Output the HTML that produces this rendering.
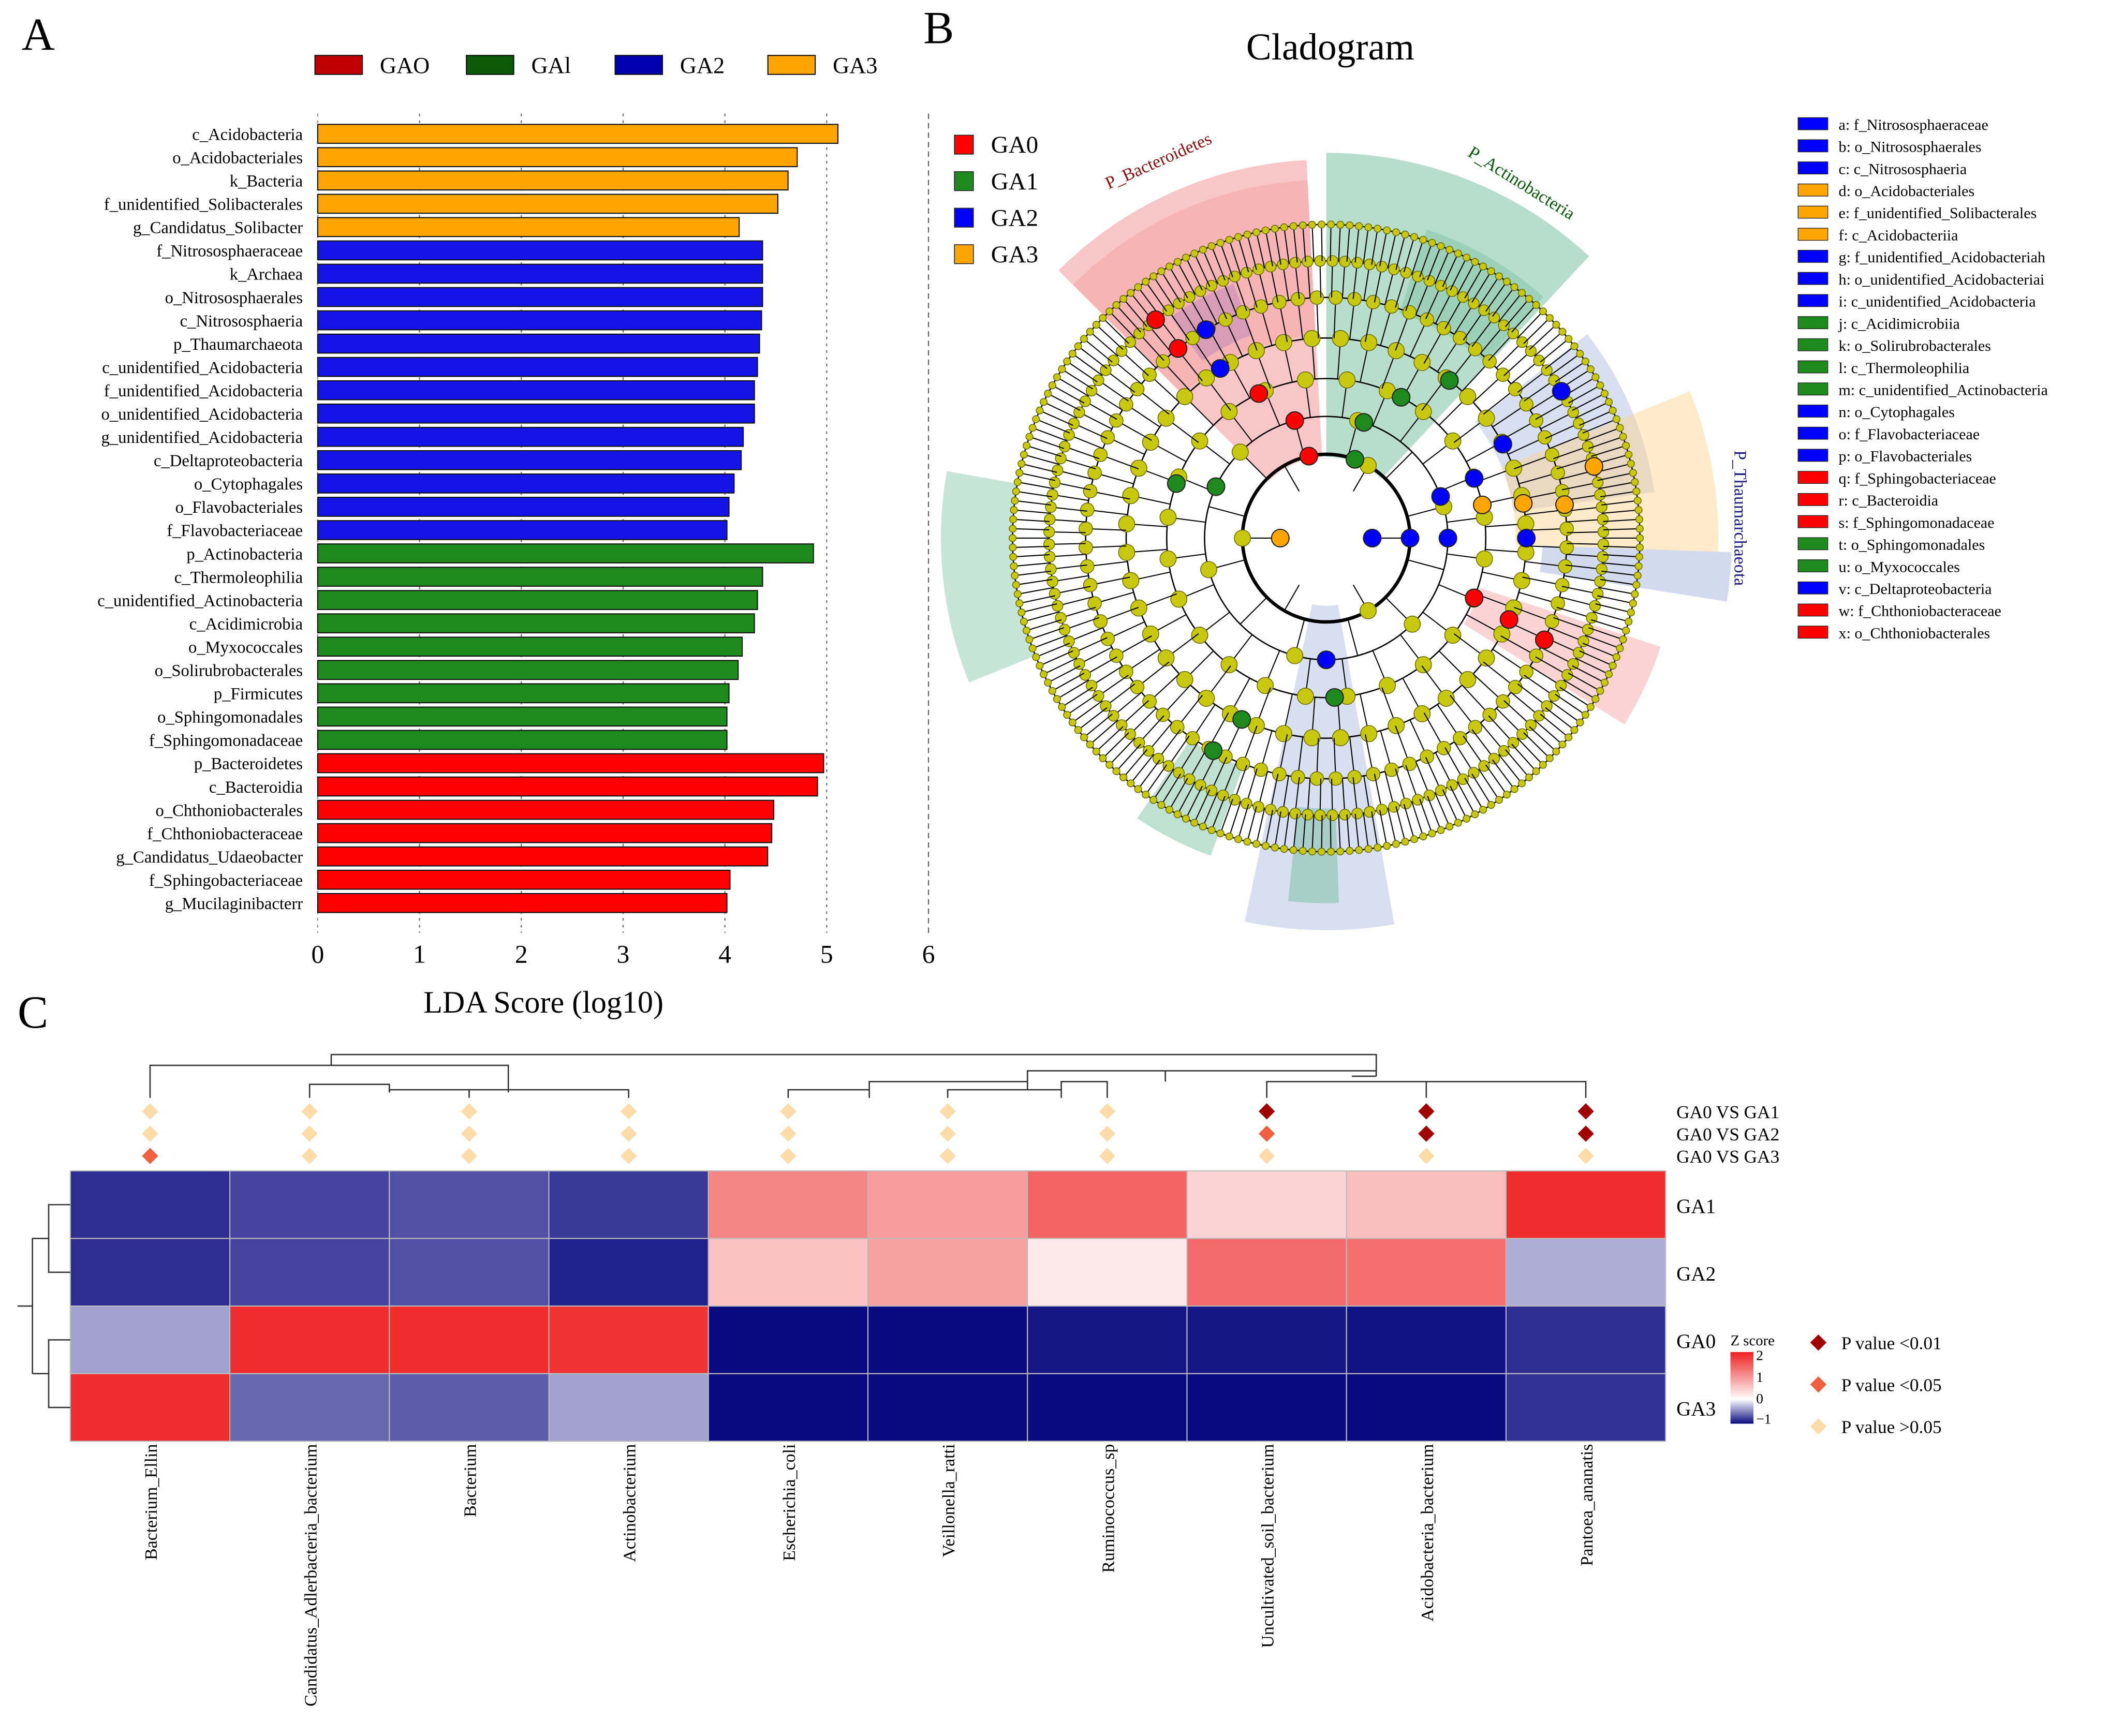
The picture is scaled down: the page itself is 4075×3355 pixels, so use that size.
<!DOCTYPE html>
<html><head><meta charset="utf-8">
<style>
html,body{margin:0;padding:0;background:#fff;}
svg{display:block;font-family:"Liberation Serif",serif;}
</style></head>
<body>
<svg id="fig" width="4075" height="3355" viewBox="0 0 1560 1284" preserveAspectRatio="none" xmlns="http://www.w3.org/2000/svg">
<rect x="0" y="0" width="1560" height="1284" fill="#fff"/>
<text x="16" y="37" font-size="34">A</text>
<text x="683" y="32" font-size="34">B</text>
<text x="13" y="760" font-size="34">C</text>
<g id="gA"></g>
<g id="gB"></g>
<g id="gC"></g>
</svg>
<script>
const NS="http://www.w3.org/2000/svg";
// ---------- Panel A data ----------
const ldaLabels=["c_Acidobacteria","o_Acidobacteriales","k_Bacteria","f_unidentified_Solibacterales","g_Candidatus_Solibacter","f_Nitrososphaeraceae","k_Archaea","o_Nitrososphaerales","c_Nitrososphaeria","p_Thaumarchaeota","c_unidentified_Acidobacteria","f_unidentified_Acidobacteria","o_unidentified_Acidobacteria","g_unidentified_Acidobacteria","c_Deltaproteobacteria","o_Cytophagales","o_Flavobacteriales","f_Flavobacteriaceae","p_Actinobacteria","c_Thermoleophilia","c_unidentified_Actinobacteria","c_Acidimicrobia","o_Myxococcales","o_Solirubrobacterales","p_Firmicutes","o_Sphingomonadales","f_Sphingomonadaceae","p_Bacteroidetes","c_Bacteroidia","o_Chthoniobacterales","f_Chthoniobacteraceae","g_Candidatus_Udaeobacter","f_Sphingobacteriaceae","g_Mucilaginibacterr"];
const ldaValues=[5.11,4.71,4.62,4.52,4.14,4.37,4.37,4.37,4.36,4.34,4.32,4.29,4.29,4.18,4.16,4.09,4.04,4.02,4.87,4.37,4.32,4.29,4.17,4.13,4.04,4.02,4.02,4.97,4.91,4.48,4.46,4.42,4.05,4.02];
const ldaGroups=[3,3,3,3,3,2,2,2,2,2,2,2,2,2,2,2,2,2,1,1,1,1,1,1,1,1,1,0,0,0,0,0,0,0];
const xTicks=[0,1,2,3,4,5,6];
const groupNames=["GAO","GAl","GA2","GA3"];
// ---------- Panel C data ----------
const hmCols=["Bacterium_Ellin","Candidatus_Adlerbacteria_bacterium","Bacterium","Actinobacterium","Escherichia_coli","Veillonella_ratti","Ruminococcus_sp","Uncultivated_soil_bacterium","Acidobacteria_bacterium","Pantoea_ananatis"];
const hmRows=["GA1","GA2","GA0","GA3"];
const zGA1=[-0.9,-0.8,-0.75,-0.85,1.1,0.9,1.4,0.4,0.6,1.9];
const zGA2=[-0.9,-0.8,-0.75,-0.95,0.55,0.85,0.2,1.35,1.3,-0.35];
const zGA0=[-0.4,1.9,1.9,1.85,-1.05,-1.05,-1.0,-1.0,-1.02,-0.9];
const zGA3=[1.9,-0.65,-0.7,-0.4,-1.05,-1.05,-1.05,-1.05,-1.05,-0.88];
const sigRowLabels=["GA0 VS GA1","GA0 VS GA2","GA0 VS GA3"];
const sig1=[0,0,0,0,0,0,0,2,2,2];
const sig2=[0,0,0,0,0,0,0,1,2,2];
const sig3=[1,0,0,0,0,0,0,0,0,0];

function mk(parent,tag,attrs,text){const e=document.createElementNS(NS,tag);for(const k in attrs)e.setAttribute(k,attrs[k]);if(text!==undefined)e.textContent=text;parent.appendChild(e);return e;}

// ===== Panel A =====
(function(){
const g=document.getElementById('gA');
const gc=["#ff0000","#1e8a1e","#1414e6","#ffa500"];
const legC=["#c00000","#0a5a0a","#0000b0","#ffa500"];
const x0=235,xs=75.3,y0=99,dy=17.24,bh=14;
const X=v=>x0+v*xs;
xTicks.forEach(t=>{
  if(t>0){const l=mk(g,'line',{x1:X(t),x2:X(t),y1:84,y2:690,stroke:t==6?'#666':'#777','stroke-width':0.9,'stroke-dasharray':t==6?'4,3':'2,3'});
  }
  const tx=mk(g,'text',{x:X(t),y:712,'font-size':19,'text-anchor':'middle'},String(t));
  
});
const l0=mk(g,'line',{x1:x0,x2:x0,y1:84,y2:690,stroke:'#888','stroke-width':0.8,'stroke-dasharray':'2,3'});

ldaValues.forEach((v,i)=>{
  const yc=y0+i*dy;
  const r=mk(g,'rect',{x:x0,y:yc-bh/2,width:X(v)-x0,height:bh,fill:gc[ldaGroups[i]],stroke:'#111','stroke-width':0.8});
  
  const t=mk(g,'text',{x:224,y:yc+4.5,'font-size':12.5,'text-anchor':'end'},ldaLabels[i]);
  
});
const at=mk(g,'text',{x:402,y:749,'font-size':23,'text-anchor':'middle'},'LDA Score (log10)');

const lx=[233,345,455,568];
groupNames.forEach((n,i)=>{
  const b=mk(g,'rect',{x:lx[i],y:41,width:35,height:14,fill:legC[i],stroke:'#111','stroke-width':0.8});
  
  const t=mk(g,'text',{x:lx[i]+48,y:54,'font-size':17},n);
  
});
})();

// ===== Panel B (cladogram) =====
(function(){
const g=document.getElementById('gB');
const cx=981,cy=398;
const P=(r,a)=>{const t=(a-90)*Math.PI/180;return [cx+r*Math.cos(t),cy+r*Math.sin(t)];};
function sector(r1,r2,a1,a2,fill,op,name){
  const [x1,y1]=P(r2,a1),[x2,y2]=P(r2,a2),[x3,y3]=P(r1,a2),[x4,y4]=P(r1,a1);
  const lg=(a2-a1)>180?1:0;
  const p=mk(g,'path',{d:`M${x1},${y1}A${r2},${r2} 0 ${lg} 1 ${x2},${y2}L${x3},${y3}A${r1},${r1} 0 ${lg} 0 ${x4},${y4}Z`,fill:fill,'fill-opacity':op});
  
}
const R='#f08080',G='#5fb38f',B='#8fa3d6',O='#ffd08a';
sector(60,280,-45,-3,R,0.45,'bacteroidetes-sector');
sector(150,265,-45,-3,R,0.25,'bacteroidetes-sector-inner');
sector(60,285,0,43,G,0.45,'actinobacteria-sector');
sector(175,240,18,42,G,0.3,'actinobacteria-sub');
sector(232,285,-112,-80,G,0.35,'left-green-sector');
sector(140,245,52,82,B,0.35,'blue-sector');
sector(140,290,68,92,O,0.45,'orange-sector');
sector(160,300,92,99,B,0.4,'thaumarchaeota-sector');
sector(120,260,108,122,R,0.35,'red-sector-x');
sector(50,290,170,192,B,0.35,'bottom-blue-sector');
sector(200,270,178,186,G,0.4,'bottom-green-sector');
sector(180,250,200,214,G,0.4,'green-sector-s');
sector(160,200,-35,-20,'#a070c0',0.35,'purple-sector');
// tree
const radii=[62,90,118,148,178,205,232];
const counts=[6,12,24,44,80,140,210];
const gap=[-3,3];
radii.forEach((r,k)=>{
  const c=mk(g,'circle',{cx:cx,cy:cy,r:r,fill:'none',stroke:'#000','stroke-width':k==0?2.5:1});
  
  const n=counts[k];
  for(let i=0;i<n;i++){
    const a=(i+0.5)*360/n;
    const rp=k==0?40:radii[k-1];
    const [x1,y1]=P(rp,a),[x2,y2]=P(r,a);
    const l=mk(g,'line',{x1:x1,y1:y1,x2:x2,y2:y2,stroke:'#000','stroke-width':0.8});
    
    const sz=k==6?2.6:(k==5?4:(k==4?5:6));
    if(k>=2 || i%2==0){
    const nd=mk(g,'circle',{cx:x2,cy:y2,r:sz,fill:'#c8c810',stroke:'#6d6d00','stroke-width':0.6});
    }
  }
});
// highlighted nodes
const hl=[[62,-12,'#ff0000'],[90,-15,'#ff0000'],[118,-25,'#ff0000'],[148,-32,'#0000ff'],[178,-30,'#0000ff'],[178,-38,'#ff0000'],[205,-38,'#ff0000'],
[62,20,'#1e8a1e'],[90,18,'#1e8a1e'],[118,28,'#1e8a1e'],[148,38,'#1e8a1e'],[118,-70,'#1e8a1e'],[90,-65,'#1e8a1e'],
[90,70,'#0000ff'],[118,68,'#0000ff'],[148,62,'#0000ff'],[205,58,'#0000ff'],[118,78,'#ffa500'],[148,80,'#ffa500'],[178,82,'#ffa500'],[205,75,'#ffa500'],
[34,90,'#0000ff'],[62,90,'#0000ff'],[90,90,'#0000ff'],[148,90,'#0000ff'],[118,112,'#ff0000'],[148,114,'#ff0000'],[178,115,'#ff0000'],
[90,180,'#0000ff'],[118,177,'#1e8a1e'],[148,205,'#1e8a1e'],[178,208,'#1e8a1e'],[34,-90,'#ffa500']];
hl.forEach(h=>{const [x,y]=P(h[0],h[1]);const c=mk(g,'circle',{cx:x,cy:y,r:6.5,fill:h[2],stroke:'#222','stroke-width':0.8});
});
const tt=mk(g,'text',{x:984,y:44,'font-size':28,'text-anchor':'middle'},'Cladogram');

const lc=['#ff0000','#1e8a1e','#0000ff','#ffa500'],ln=['GA0','GA1','GA2','GA3'];
ln.forEach((n,i)=>{const b=mk(g,'rect',{x:706,y:100+i*27,width:14,height:14,fill:lc[i],stroke:'#222','stroke-width':0.6});

const t=mk(g,'text',{x:733,y:113+i*27,'font-size':18},n);});
const t1=mk(g,'text',{x:0,y:0,'font-size':13,fill:'#8b1010',transform:`translate(820,140) rotate(-24)`},'P_Bacteroidetes');

const t2=mk(g,'text',{x:0,y:0,'font-size':13,fill:'#0a5a0a',transform:`translate(1085,115) rotate(32)`},'P_Actinobacteria');

const t3=mk(g,'text',{x:0,y:0,'font-size':13,fill:'#1a1a80',transform:`translate(1283,333) rotate(90)`},'P_Thaumarchaeota');

const keys=[["a: f_Nitrososphaeraceae",2],["b: o_Nitrososphaerales",2],["c: c_Nitrososphaeria",2],["d: o_Acidobacteriales",3],["e: f_unidentified_Solibacterales",3],["f: c_Acidobacteriia",3],["g: f_unidentified_Acidobacteriah",2],["h: o_unidentified_Acidobacteriai",2],["i: c_unidentified_Acidobacteria",2],["j: c_Acidimicrobiia",1],["k: o_Solirubrobacterales",1],["l: c_Thermoleophilia",1],["m: c_unidentified_Actinobacteria",1],["n: o_Cytophagales",2],["o: f_Flavobacteriaceae",2],["p: o_Flavobacteriales",2],["q: f_Sphingobacteriaceae",0],["r: c_Bacteroidia",0],["s: f_Sphingomonadaceae",0],["t: o_Sphingomonadales",1],["u: o_Myxococcales",1],["v: c_Deltaproteobacteria",2],["w: f_Chthoniobacteraceae",0],["x: o_Chthoniobacterales",0]];
keys.forEach((k,i)=>{const y=92+i*16.35;
const b=mk(g,'rect',{x:1330,y:y-5,width:22,height:9,fill:lc[k[1]],stroke:'#222','stroke-width':0.5});

const t=mk(g,'text',{x:1360,y:y+4,'font-size':11.5},k[0]);});
})();

// ===== Panel C =====
(function(){
const g=document.getElementById('gC');
const x0=52,cw=118,y0=866,rh=50;
const rowsZ=[zGA1,zGA2,zGA0,zGA3];
function col(z){
  if(z>=0){const t=Math.min(1,z/2);return `rgb(${Math.round(255-(255-238)*t)},${Math.round(255-(255-34)*t)},${Math.round(255-(255-34)*t)})`;}
  const t=Math.min(1,-z/1.05);return `rgb(${Math.round(255-245*t)},${Math.round(255-245*t)},${Math.round(255-127*t)})`;
}
rowsZ.forEach((arr,r)=>{arr.forEach((z,c)=>{
  const e=mk(g,'rect',{x:x0+c*cw,y:y0+r*rh,width:cw,height:rh,fill:col(z),stroke:'#bbb','stroke-width':0.8});
  
});
const t=mk(g,'text',{x:1240,y:y0+r*rh+rh/2+6,'font-size':15},hmRows[r]);
});
hmCols.forEach((n,c)=>{const xc=x0+c*cw+cw/2;
const t=mk(g,'text',{x:0,y:0,'font-size':13,'text-anchor':'end',transform:`translate(${xc+5},1068) rotate(-90)`},n);
});
const sc=['#fddcaa','#f06040','#a00000'];
[sig1,sig2,sig3].forEach((arr,r)=>{const y=822+r*16.5;
arr.forEach((s,c)=>{const xc=x0+c*cw+cw/2;
const d=mk(g,'path',{d:`M${xc},${y-6}L${xc+6},${y}L${xc},${y+6}L${xc-6},${y}Z`,fill:sc[s]});
});
const t=mk(g,'text',{x:1240,y:y+5,'font-size':13.5},sigRowLabels[r]);
});
// dendrograms
const dp=["M111,812V788H376V808","M229,812V802H288V808","M288,808V806H347V812","M347,808V806H465V812","M245,788V780H1018V796",
"M583,812V806H643V812","M643,806V800H760V806","M701,812V806H785V812","M760,800V792H862V800","M819,812V806","M862,792V796","M937,812V800H1173V812","M1055,812V800","M785,806V800H819V806","M1018,796V792H862","M1018,796H1000"];
dp.forEach(d=>{const p=mk(g,'path',{d:d,fill:'none',stroke:'#333','stroke-width':1});});
const lp=["M52,891H36V941H52","M36,916H24V1016","M52,991H36V1041H52","M36,1016H24","M24,966H13"];
lp.forEach(d=>{const p=mk(g,'path',{d:d,fill:'none',stroke:'#333','stroke-width':1});});
// z legend
const defs=mk(g,'defs',{});const lg=mk(defs,'linearGradient',{id:'zg',x1:0,y1:0,x2:0,y2:1});
mk(lg,'stop',{offset:'0','stop-color':'#ee2222'});mk(lg,'stop',{offset:'0.66','stop-color':'#ffffff'});mk(lg,'stop',{offset:'1','stop-color':'#0a0a80'});
const zb=mk(g,'rect',{x:1280,y:1000,width:17,height:53,fill:'url(#zg)'});
const zt=mk(g,'text',{x:1280,y:995,'font-size':11},'Z score');
[['2',1006],['1',1022],['0',1038],['−1',1053]].forEach(k=>{const t=mk(g,'text',{x:1299,y:k[1],'font-size':10.5},k[0]);});
[['P value <0.01',2,993],['P value <0.05',1,1024],['P value >0.05',0,1055]].forEach(k=>{
const xc=1345,y=k[2];const d=mk(g,'path',{d:`M${xc},${y-6}L${xc+6},${y}L${xc},${y+6}L${xc-6},${y}Z`,fill:sc[k[1]]});

const t=mk(g,'text',{x:1362,y:y+5,'font-size':13.5},k[0]);});
})();
</script>
</body></html>
